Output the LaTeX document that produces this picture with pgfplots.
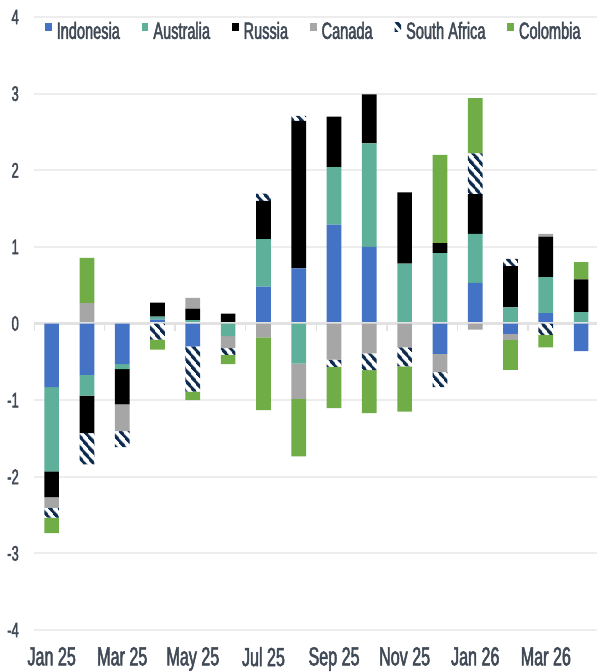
\documentclass[border=0pt]{standalone}
\usepackage{pgfplots}
\pgfplotsset{compat=1.18}
\usepackage{pgfplotstable}
\usetikzlibrary{patterns.meta}
\usepackage{fontspec}
\setmainfont{Liberation Sans}[FakeStretch=0.62,FakeBold=2]
\definecolor{cInd}{HTML}{4472C4}
\definecolor{cAus}{HTML}{5EB09B}
\definecolor{cRus}{HTML}{000000}
\definecolor{cCan}{HTML}{A6A6A6}
\definecolor{cSA}{HTML}{0C2B4E}
\definecolor{cCol}{HTML}{70AD47}
\definecolor{txt}{HTML}{404A56}
\definecolor{gridc}{HTML}{EDEDED}
\definecolor{zeroc}{HTML}{E2E2E2}

\pgfplotstableread{
x Ind Aus Rus Can SA Col
0 0 0 0 0 0 0
1 0 0 0 0.265 0 0.59
2 0 0 0 0 0 0
3 0.05 0.04 0.175 0.015 0 0
4 0 0.045 0.15 0.14 0 0
5 0 0 0.13 0 0 0
6 0.48 0.62 0.50 0 0.095 0
7 0.72 0 1.925 0 0.065 0
8 1.29 0.75 0.66 0 0 0
9 1.00 1.35 0.64 0 0 0
10 0 0.78 0.93 0 0 0
11 0 0.92 0.13 0 0 1.15
12 0.53 0.64 0.52 0 0.53 0.72
13 0 0.21 0.54 0 0.095 0
14 0.135 0.47 0.53 0.035 0 0
15 0 0.15 0.425 0 0 0.225
}\posdata

\pgfplotstableread{
x Ind Aus Rus Can SA Col
0 -0.83 -1.10 -0.335 -0.14 -0.13 -0.20
1 -0.67 -0.27 -0.49 0 -0.41 0
2 -0.53 -0.065 -0.46 -0.35 -0.21 0
3 0 0 0 0 -0.21 -0.13
4 -0.30 0 0 0 -0.59 -0.11
5 0 -0.165 0 -0.155 -0.09 -0.12
6 0 0 0 -0.18 0 -0.95
7 0 -0.525 0 -0.46 0 -0.75
8 0 0 0 -0.47 -0.095 -0.54
9 0 0 0 -0.39 -0.22 -0.56
10 0 0 0 -0.31 -0.25 -0.59
11 -0.395 0 0 -0.24 -0.195 0
12 0 0 0 -0.08 0 0
13 -0.135 0 0 -0.08 0 -0.39
14 0 0 0 0 -0.15 -0.16
15 -0.36 0 0 0 0 0
}\negdata

\pgfplotsset{
  common/.style={scale only axis, width=563pt, height=613pt,
    xmin=-0.5, xmax=15.45, ymin=-4, ymax=4,
    ybar stacked, bar width=14.7pt, at={(0pt,0pt)}, anchor=south west},
  sInd/.style={fill=cInd, draw=none},
  sAus/.style={fill=cAus, draw=none},
  sRus/.style={fill=cRus, draw=none},
  sCan/.style={fill=cCan, draw=none},
  sSA/.style={fill=white, draw=none, postaction={pattern={Lines[angle=-50,distance=6.5pt,line width=3.2pt]}, pattern color=cSA}},
  sCol/.style={fill=cCol, draw=none},
}

\begin{document}
\begin{tikzpicture}
\useasboundingbox (-34pt,-42pt) rectangle (563pt,630pt);
\begin{axis}[common,
  axis line style={draw=none}, tick style={draw=none}, major tick length=0pt,
  ymajorgrids, grid style={color=gridc, line width=1.8pt},
  ytick={-4,-3,-2,-1,0,1,2,3,4},
  yticklabels={-4,-3,-2,-1,0,1,2,3,4},
  xtick={0,2,4,6,8,10,12,14},
  xticklabels={Jan 25,Mar 25,May 25,Jul 25,Sep 25,Nov 25,Jan 26,Mar 26},
  tick label style={text=txt},
  yticklabel style={font=\fontsize{21}{21}\selectfont, inner sep=0pt, xshift=-15pt},
  xticklabel style={font=\fontsize{26}{26}\selectfont, inner sep=0pt, yshift=-17pt},
  legend columns=6,
  legend cell align=left,
  legend image code/.code={\fill[#1] (0pt,0pt) rectangle (6.5pt,8.3pt);},
  legend style={at={(axis description cs:0.0195,0.977)}, anchor=west,
    draw=none, fill=none, inner sep=0pt, text=txt,
    font=\fontsize{23.5}{23.5}\selectfont,
    nodes={inner sep=0pt},
    /tikz/every odd column/.append style={column sep=5pt},
    /tikz/every even column/.append style={column sep=22pt}},
]
\addplot[sInd] table[x=x,y=Ind] {\posdata};
\addplot[sAus] table[x=x,y=Aus] {\posdata};
\addplot[sRus] table[x=x,y=Rus] {\posdata};
\addplot[sCan] table[x=x,y=Can] {\posdata};
\addplot[sSA] table[x=x,y=SA] {\posdata};
\addplot[sCol] table[x=x,y=Col] {\posdata};
\legend{Indonesia,Australia,Russia,Canada,South Africa,Colombia}
\end{axis}
\begin{axis}[common, hide axis]
\addplot[sInd] table[x=x,y=Ind] {\negdata};
\addplot[sAus] table[x=x,y=Aus] {\negdata};
\addplot[sRus] table[x=x,y=Rus] {\negdata};
\addplot[sCan] table[x=x,y=Can] {\negdata};
\addplot[sSA] table[x=x,y=SA] {\negdata};
\addplot[sCol] table[x=x,y=Col] {\negdata};
\draw[zeroc, line width=2.4pt] (axis cs:-0.5,0) -- (axis cs:15.45,0);
\pgfplotsinvokeforeach{-0.5,1.5,3.5,5.5,7.5,9.5,11.5,13.5}{
  \draw[zeroc, line width=1.4pt] (axis cs:#1,0) -- ++(0pt,-7pt);
}
\end{axis}
\end{tikzpicture}
\end{document}
